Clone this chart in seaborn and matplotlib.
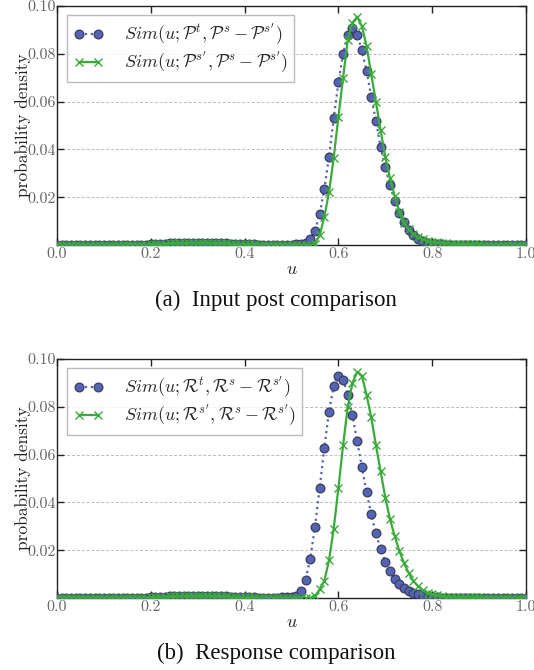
import numpy as np
import pandas as pd
import matplotlib
matplotlib.use("Agg")
import matplotlib.pyplot as plt
import seaborn as sns

# ---------------- data ----------------
u = [round(i * 0.01, 2) for i in range(101)]

base_0_19 = [0.0002] * 20
bump_20_40 = [0.0003, 0.0004, 0.0005, 0.0006, 0.0007, 0.0008, 0.0008, 0.0009, 0.0009, 0.0010,
              0.0010, 0.0010, 0.0010, 0.0009, 0.0009, 0.0008, 0.0007, 0.0006, 0.0005, 0.0004, 0.0004]

post_t = (base_0_19 + bump_20_40 +
          [0.0003, 0.0003, 0.0002, 0.0002, 0.0002, 0.0002, 0.0002, 0.0002, 0.0002, 0.0002,
           0.0003, 0.0005, 0.0010,                                   # 0.41-0.53
           0.0024, 0.0060, 0.0128, 0.0234, 0.0370, 0.0530, 0.0680,   # 0.54-0.60
           0.0800, 0.0880, 0.0910, 0.0880, 0.0815, 0.0730, 0.0620,   # 0.61-0.67
           0.0520, 0.0410, 0.0325, 0.0250, 0.0185, 0.0135, 0.0095,   # 0.68-0.74
           0.0064, 0.0042, 0.0027, 0.0017, 0.0010, 0.0006, 0.0004,   # 0.75-0.81
           0.0003] + [0.0002] * 18)                                  # 0.82-1.00

post_s = (base_0_19 + bump_20_40 +
          [0.0003, 0.0003, 0.0002, 0.0002, 0.0002, 0.0002, 0.0002, 0.0002, 0.0002, 0.0002,
           0.0002, 0.0001, 0.0001,                                   # 0.41-0.53
           0.0001, 0.0006, 0.0040, 0.0118, 0.0220, 0.0365, 0.0537,   # 0.54-0.60
           0.0700, 0.0858, 0.0930, 0.0955, 0.0916, 0.0833, 0.0715,   # 0.61-0.67
           0.0598, 0.0480, 0.0367, 0.0280, 0.0205, 0.0140, 0.0093,   # 0.68-0.74
           0.0065, 0.0046, 0.0033, 0.0024, 0.0018, 0.0014, 0.0011,   # 0.75-0.81
           0.0009, 0.0007, 0.0006, 0.0005, 0.0004, 0.0004, 0.0004,   # 0.82-0.88
           0.0003, 0.0003] + [0.0002] * 10)                          # 0.89-1.00

resp_t = (base_0_19 + bump_20_40 +
          [0.0003, 0.0003, 0.0002, 0.0002, 0.0002, 0.0002, 0.0002, 0.0003, 0.0004, 0.0005,
           0.0010, 0.0029, 0.0077,                                   # 0.41-0.53
           0.0165, 0.0297, 0.0459, 0.0629, 0.0780, 0.0886, 0.0930,   # 0.54-0.60
           0.0913, 0.0851, 0.0764, 0.0656, 0.0549, 0.0443, 0.0350,   # 0.61-0.67
           0.0270, 0.0204, 0.0151, 0.0111, 0.0080, 0.0057, 0.0042,   # 0.68-0.74
           0.0031, 0.0022, 0.0015, 0.0010, 0.0006, 0.0004, 0.0003,   # 0.75-0.81
           0.0002] + [0.0002] * 18)                                  # 0.82-1.00

resp_s = (base_0_19 + bump_20_40 +
          [0.0003, 0.0003, 0.0002, 0.0002, 0.0002, 0.0002, 0.0002, 0.0002, 0.0002, 0.0001,
           0.0001, 0.0001, 0.0001,                                   # 0.41-0.53
           0.0001, 0.0008, 0.0036, 0.0072, 0.0158, 0.0290, 0.0460,   # 0.54-0.60
           0.0640, 0.0800, 0.0900, 0.0946, 0.0930, 0.0850, 0.0756,   # 0.61-0.67
           0.0640, 0.0530, 0.0420, 0.0330, 0.0260, 0.0196, 0.0145,   # 0.68-0.74
           0.0104, 0.0071, 0.0049, 0.0033, 0.0023, 0.0016, 0.0011,   # 0.75-0.81
           0.0008, 0.0006, 0.0005, 0.0004, 0.0004, 0.0003, 0.0003,   # 0.82-0.88
           0.0003, 0.0003] + [0.0002] * 10)                          # 0.89-1.00

x_ticks = [0.0, 0.2, 0.4, 0.6, 0.8, 1.0]
y_ticks = [0.02, 0.04, 0.06, 0.08, 0.10]

labels_top = [r"$Sim(u;\mathcal{P}^t,\mathcal{P}^s-\mathcal{P}^{s'})$",
              r"$Sim(u;\mathcal{P}^{s'},\mathcal{P}^s-\mathcal{P}^{s'})$"]
labels_bot = [r"$Sim(u;\mathcal{R}^t,\mathcal{R}^s-\mathcal{R}^{s'})$",
              r"$Sim(u;\mathcal{R}^{s'},\mathcal{R}^s-\mathcal{R}^{s'})$"]
captions = ["(a)  Input post comparison", "(b)  Response comparison"]

# ---------------- style ----------------
sns.set_style("ticks")
plt.rcParams["font.family"] = ["cmr10", "DejaVu Serif"]
plt.rcParams["mathtext.fontset"] = "cm"
plt.rcParams["axes.formatter.use_mathtext"] = True
plt.rcParams["axes.unicode_minus"] = False

BLUE = "#5563b5"
GREEN = "#3aaa3a"
TICKC = "#666666"

fig = plt.figure(figsize=(5.34, 6.70), dpi=100)
ax1 = fig.add_axes([57 / 534, 1 - 245 / 670, 469 / 534, 239 / 670])
ax2 = fig.add_axes([57 / 534, 1 - 598 / 670, 469 / 534, 239 / 670])

def draw(ax, ya, yb, labels):
    df = pd.DataFrame({"u": u, "a": ya, "b": yb})
    sns.lineplot(data=df, x="u", y="a", ax=ax, color=BLUE, linestyle=":", linewidth=1.6,
                 marker="o", markersize=6.3, markerfacecolor=BLUE,
                 markeredgecolor="#3a3f5e", markeredgewidth=0.9, label=labels[0], zorder=3)
    sns.lineplot(data=df, x="u", y="b", ax=ax, color=GREEN, linestyle="-", linewidth=1.6,
                 marker="x", markersize=6.0, markeredgewidth=1.0,
                 markeredgecolor=GREEN, markerfacecolor=GREEN,
                 label=labels[1], zorder=4)
    ax.set_xlim(0, 1.0)
    ax.set_ylim(0, 0.10)
    ax.set_xticks(x_ticks)
    ax.set_xticklabels(["0.0", "0.2", "0.4", "0.6", "0.8", "1.0"])
    ax.set_yticks(y_ticks)
    ax.set_yticklabels(["0.02", "0.04", "0.06", "0.08", "0.10"])
    ax.tick_params(axis="both", direction="in", length=5, width=1, colors="#222222",
                   labelcolor=TICKC, labelsize=11.5, pad=2, top=True, right=True)
    ax.tick_params(axis="y", pad=1)
    ax.yaxis.grid(True, linestyle=(0, (3, 2)), color="#bbbbbb", linewidth=0.7)
    ax.xaxis.grid(False)
    ax.set_axisbelow(True)
    for sp in ax.spines.values():
        sp.set_visible(True)
        sp.set_color("#222222")
        sp.set_linewidth(1.0)
    ax.set_xlabel(r"$u$", fontsize=13, labelpad=0)
    ax.set_ylabel("probability density", fontsize=12.5, labelpad=-3, color="#222222")
    leg = ax.legend(loc="upper left", bbox_to_anchor=(0.021, 0.962), borderaxespad=0,
                    numpoints=2, fontsize=13, frameon=True, fancybox=False,
                    handlelength=1.7, handletextpad=1.1, borderpad=0.35, labelspacing=0.15)
    leg.get_frame().set_edgecolor("#aaaaaa")
    leg.get_frame().set_linewidth(1.0)

draw(ax1, post_t, post_s, labels_top)
draw(ax2, resp_t, resp_s, labels_bot)

fig.text(276 / 534, 1 - 300 / 670, captions[0], ha="center", va="center",
         fontsize=16.5, family=["Liberation Serif"], color="#111111")
fig.text(276 / 534, 1 - 653 / 670, captions[1], ha="center", va="center",
         fontsize=16.5, family=["Liberation Serif"], color="#111111")

fig.savefig("out.png", dpi=100)
